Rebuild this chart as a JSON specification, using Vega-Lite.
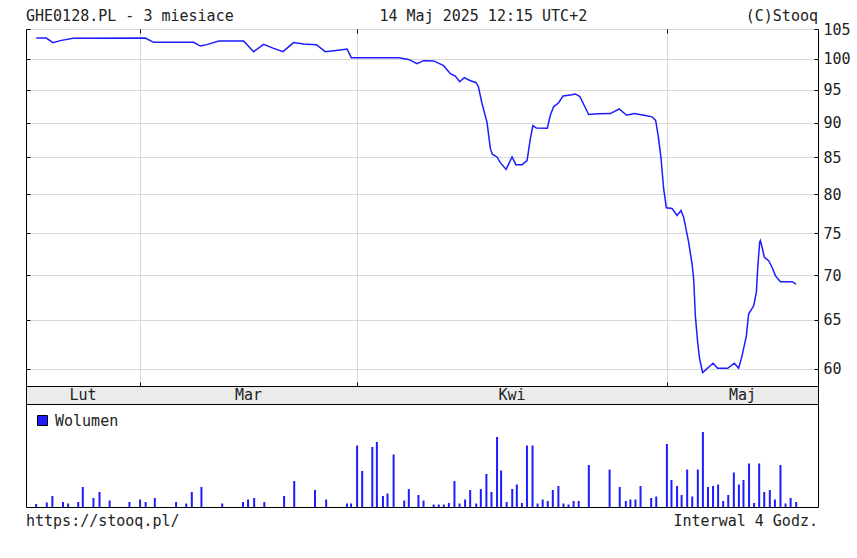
{
  "$schema": "https://vega.github.io/schema/vega-lite/v6.json",
  "autosize": {"type": "pad"},
  "padding": {"left": 25, "top": 8, "right": 0, "bottom": 0},
  "background": "#ffffff",
  "datasets": {
    "price": [
      {"i": 2.03, "p": 103.45}, {"i": 4.0, "p": 103.45}, {"i": 5.33, "p": 102.67}, {"i": 6.77, "p": 103.01},
      {"i": 9.27, "p": 103.4}, {"i": 23.53, "p": 103.45}, {"i": 25.17, "p": 102.72}, {"i": 33.06, "p": 102.72},
      {"i": 34.38, "p": 102.09}, {"i": 35.7, "p": 102.33}, {"i": 37.99, "p": 102.94}, {"i": 42.92, "p": 102.94},
      {"i": 44.89, "p": 101.15}, {"i": 46.86, "p": 102.38}, {"i": 48.84, "p": 101.7}, {"i": 50.69, "p": 101.15},
      {"i": 52.78, "p": 102.67}, {"i": 54.75, "p": 102.43}, {"i": 57.26, "p": 102.33}, {"i": 59.03, "p": 101.15},
      {"i": 61.99, "p": 101.42}, {"i": 63.31, "p": 101.59}, {"i": 64.16, "p": 100.15}, {"i": 73.49, "p": 100.15},
      {"i": 75.46, "p": 99.87}, {"i": 77.12, "p": 99.16}, {"i": 78.42, "p": 99.66}, {"i": 80.39, "p": 99.62},
      {"i": 82.37, "p": 98.84}, {"i": 83.69, "p": 97.54}, {"i": 84.67, "p": 97.15}, {"i": 85.52, "p": 96.26},
      {"i": 86.45, "p": 96.91}, {"i": 87.63, "p": 96.42}, {"i": 88.72, "p": 96.15}, {"i": 89.21, "p": 95.51},
      {"i": 89.94, "p": 92.87}, {"i": 90.93, "p": 90.0}, {"i": 91.58, "p": 86.21}, {"i": 91.97, "p": 85.43},
      {"i": 92.9, "p": 85.04}, {"i": 93.55, "p": 84.24}, {"i": 94.69, "p": 83.31}, {"i": 95.86, "p": 85.04},
      {"i": 96.61, "p": 83.96}, {"i": 97.83, "p": 83.96}, {"i": 98.82, "p": 84.52}, {"i": 99.47, "p": 87.65},
      {"i": 99.96, "p": 89.55}, {"i": 100.65, "p": 89.18}, {"i": 102.82, "p": 89.15}, {"i": 103.41, "p": 91.09},
      {"i": 104.06, "p": 92.36}, {"i": 105.05, "p": 92.98}, {"i": 105.92, "p": 94.03}, {"i": 107.69, "p": 94.21},
      {"i": 108.34, "p": 94.34}, {"i": 109.23, "p": 93.95}, {"i": 110.97, "p": 91.19}, {"i": 112.88, "p": 91.3},
      {"i": 115.25, "p": 91.34}, {"i": 116.98, "p": 92.03}, {"i": 118.46, "p": 91.09}, {"i": 119.98, "p": 91.34},
      {"i": 122.15, "p": 91.04}, {"i": 123.47, "p": 90.85}, {"i": 124.18, "p": 90.32}, {"i": 124.71, "p": 87.94},
      {"i": 125.25, "p": 84.8}, {"i": 125.76, "p": 80.7}, {"i": 126.29, "p": 78.2}, {"i": 127.42, "p": 78.11},
      {"i": 128.4, "p": 77.21}, {"i": 129.19, "p": 77.86}, {"i": 129.7, "p": 77.01}, {"i": 130.69, "p": 73.89},
      {"i": 131.36, "p": 71.29}, {"i": 131.68, "p": 69.54}, {"i": 132.01, "p": 65.45}, {"i": 132.47, "p": 62.64},
      {"i": 132.86, "p": 60.93}, {"i": 133.45, "p": 59.61}, {"i": 135.5, "p": 60.53}, {"i": 136.41, "p": 60.03},
      {"i": 138.38, "p": 60.03}, {"i": 139.7, "p": 60.53}, {"i": 140.55, "p": 60.03}, {"i": 141.22, "p": 61.27},
      {"i": 142.07, "p": 63.32}, {"i": 142.52, "p": 65.64}, {"i": 143.51, "p": 66.54}, {"i": 144.04, "p": 68.03},
      {"i": 144.3, "p": 70.7}, {"i": 144.69, "p": 73.89}, {"i": 144.83, "p": 74.09}, {"i": 145.17, "p": 73.28},
      {"i": 145.62, "p": 72.08}, {"i": 146.47, "p": 71.68}, {"i": 147.14, "p": 70.9}, {"i": 147.79, "p": 69.93},
      {"i": 148.78, "p": 69.24}, {"i": 151.09, "p": 69.24}, {"i": 151.87, "p": 68.97}
    ],
    "vol": [
      {"i": 2.0, "v": 3}, {"i": 4.1, "v": 4.5}, {"i": 5.2, "v": 11}, {"i": 7.3, "v": 5}, {"i": 8.3, "v": 3.5},
      {"i": 10.3, "v": 5}, {"i": 11.2, "v": 20}, {"i": 13.3, "v": 9}, {"i": 14.5, "v": 15}, {"i": 16.5, "v": 6.5},
      {"i": 20.4, "v": 5}, {"i": 22.5, "v": 7.5}, {"i": 23.6, "v": 5}, {"i": 25.4, "v": 9}, {"i": 29.6, "v": 5},
      {"i": 31.6, "v": 3.5}, {"i": 32.7, "v": 15}, {"i": 34.6, "v": 20}, {"i": 38.7, "v": 3.5}, {"i": 42.8, "v": 5},
      {"i": 43.8, "v": 7.5}, {"i": 45.0, "v": 9}, {"i": 47.0, "v": 5}, {"i": 50.9, "v": 11}, {"i": 52.9, "v": 26},
      {"i": 57.0, "v": 17}, {"i": 59.2, "v": 7.5}, {"i": 63.3, "v": 3.5}, {"i": 64.1, "v": 3.5}, {"i": 65.3, "v": 61.5},
      {"i": 66.3, "v": 36}, {"i": 68.3, "v": 60}, {"i": 69.2, "v": 65}, {"i": 70.4, "v": 11}, {"i": 71.3, "v": 13.5},
      {"i": 72.5, "v": 52.5}, {"i": 74.6, "v": 6.5}, {"i": 75.5, "v": 18}, {"i": 77.4, "v": 12}, {"i": 78.4, "v": 6.5},
      {"i": 80.4, "v": 2.5}, {"i": 81.4, "v": 2.5}, {"i": 82.4, "v": 2.5}, {"i": 83.4, "v": 4}, {"i": 84.5, "v": 26},
      {"i": 85.5, "v": 3.5}, {"i": 86.6, "v": 7.5}, {"i": 87.6, "v": 17}, {"i": 88.8, "v": 3.5}, {"i": 89.7, "v": 18},
      {"i": 90.8, "v": 33}, {"i": 91.8, "v": 15}, {"i": 92.9, "v": 70}, {"i": 93.7, "v": 36.5}, {"i": 94.8, "v": 5},
      {"i": 95.9, "v": 18}, {"i": 96.8, "v": 22.5}, {"i": 97.8, "v": 4}, {"i": 98.8, "v": 61.5}, {"i": 99.9, "v": 61.5},
      {"i": 100.9, "v": 3.5}, {"i": 101.9, "v": 7.5}, {"i": 102.9, "v": 6}, {"i": 103.9, "v": 17}, {"i": 105.0, "v": 21},
      {"i": 106.0, "v": 3.5}, {"i": 107.0, "v": 2.5}, {"i": 108.0, "v": 6}, {"i": 109.0, "v": 6}, {"i": 111.0, "v": 42},
      {"i": 115.1, "v": 37.5}, {"i": 117.1, "v": 20}, {"i": 118.3, "v": 6}, {"i": 119.2, "v": 7.5}, {"i": 120.2, "v": 7.5},
      {"i": 121.2, "v": 21}, {"i": 123.3, "v": 9}, {"i": 124.3, "v": 10.5}, {"i": 126.4, "v": 63}, {"i": 127.3, "v": 27},
      {"i": 128.4, "v": 21}, {"i": 129.3, "v": 12}, {"i": 130.4, "v": 37.5}, {"i": 131.4, "v": 10.5}, {"i": 132.5, "v": 37.5},
      {"i": 133.5, "v": 75}, {"i": 134.5, "v": 20}, {"i": 135.5, "v": 21}, {"i": 136.5, "v": 22.5}, {"i": 137.5, "v": 6},
      {"i": 138.5, "v": 12}, {"i": 139.6, "v": 34.5}, {"i": 140.6, "v": 22.5}, {"i": 141.5, "v": 27}, {"i": 142.6, "v": 43.5},
      {"i": 143.6, "v": 4}, {"i": 144.6, "v": 43.5}, {"i": 145.6, "v": 15}, {"i": 146.7, "v": 17}, {"i": 147.7, "v": 7.5},
      {"i": 148.8, "v": 42}, {"i": 149.8, "v": 3.5}, {"i": 150.8, "v": 9}, {"i": 151.9, "v": 5}
    ],
    "months": [
      {"m": "Lut", "center": 11.25},
      {"m": "Mar", "center": 43.9},
      {"m": "Kwi", "center": 95.85},
      {"m": "Maj", "center": 141.3}
    ]
  },
  "bounds": "flush",
  "spacing": 0,
  "vconcat": [
    {
      "width": 792,
      "height": 357,
      "resolve": {"axis": {"x": "independent", "y": "independent"}},
      "layer": [
        {
          "data": {"name": "price"},
          "mark": {"type": "line", "color": "#1c1cff", "strokeWidth": 1.5},
          "encoding": {
            "x": {
              "field": "i", "type": "quantitative",
              "scale": {"domain": [0, 156.2], "nice": false, "zero": false, "padding": 0},
              "axis": {"orient": "top", "values": [22.5, 65.3, 126.4], "labels": false, "title": null,
                       "grid": true, "gridColor": "#d9d9d9", "tickSize": -4, "tickColor": "#000", "domain": false}
            },
            "y": {
              "field": "p", "type": "quantitative",
              "scale": {"type": "log", "domain": [58.3, 105], "nice": false, "zero": false},
              "axis": {"orient": "right", "values": [60, 65, 70, 75, 80, 85, 90, 95, 100, 105], "format": "d",
                       "title": null, "grid": true, "gridColor": "#d9d9d9", "tickSize": -4, "tickColor": "#000",
                       "domain": false, "labelPadding": 9}
            }
          }
        },
        {
          "data": {"values": [{"t": "GHE0128.PL - 3 miesiace"}]},
          "mark": {"type": "text", "align": "left", "baseline": "middle", "dy": -13, "font": "DejaVu Sans Mono", "fontSize": 15, "color": "#222"},
          "encoding": {
            "text": {"field": "t"},
            "x": {"datum": 0, "type": "quantitative",
                  "axis": {"orient": "bottom", "values": [22.5, 65.3, 126.4], "labels": false, "title": null,
                           "grid": false, "tickSize": -4, "tickColor": "#000", "domain": false}},
            "y": {"datum": 105, "type": "quantitative",
                  "axis": {"orient": "left", "values": [60, 65, 70, 75, 80, 85, 90, 95, 100, 105], "labels": false,
                           "title": null, "grid": false, "tickSize": -4, "tickColor": "#000", "domain": false}}
          }
        },
        {
          "data": {"values": [{"t": "14 Maj 2025 12:15 UTC+2"}]},
          "mark": {"type": "text", "align": "center", "baseline": "middle", "dy": -13, "font": "DejaVu Sans Mono", "fontSize": 15, "color": "#222"},
          "encoding": {
            "text": {"field": "t"},
            "x": {"datum": 90.2, "type": "quantitative", "axis": null},
            "y": {"datum": 105, "type": "quantitative", "axis": null}
          }
        },
        {
          "data": {"values": [{"t": "(C)Stooq"}]},
          "mark": {"type": "text", "align": "right", "baseline": "middle", "dy": -13, "font": "DejaVu Sans Mono", "fontSize": 15, "color": "#222"},
          "encoding": {
            "text": {"field": "t"},
            "x": {"datum": 156.2, "type": "quantitative", "axis": null},
            "y": {"datum": 105, "type": "quantitative", "axis": null}
          }
        }
      ]
    },
    {
      "width": 792,
      "height": 18,
      "view": {"fill": "#ebebeb", "stroke": "#000"},
      "data": {"name": "months"},
      "mark": {"type": "text", "baseline": "middle", "align": "center", "font": "DejaVu Sans Mono", "fontSize": 15, "color": "#222"},
      "encoding": {
        "x": {"field": "center", "type": "quantitative", "scale": {"domain": [0, 156.2], "nice": false, "zero": false, "padding": 0}, "axis": null},
        "text": {"field": "m"}
      }
    },
    {
      "width": 792,
      "height": 103,
      "layer": [
        {
          "data": {"name": "vol"},
          "mark": {"type": "bar", "size": 2},
          "encoding": {
            "x": {
              "field": "i", "type": "quantitative",
              "scale": {"domain": [0, 156.2], "nice": false, "zero": false, "padding": 0},
              "axis": {"orient": "top", "values": [22.5, 65.3, 126.4], "labels": false, "title": null,
                       "grid": true, "gridColor": "#d9d9d9", "tickSize": -4, "tickColor": "#000", "domain": false}
            },
            "y": {"field": "v", "type": "quantitative", "scale": {"domain": [0, 103], "nice": false}, "axis": null},
            "color": {
              "datum": "Wolumen", "type": "nominal",
              "scale": {"range": ["#1c1cff"]},
              "legend": {"orient": "top-left", "title": null, "offset": 9, "padding": 0,
                         "symbolType": "square", "symbolSize": 100, "symbolStrokeColor": "#000", "symbolStrokeWidth": 1,
                         "labelFont": "DejaVu Sans Mono", "labelFontSize": 15, "labelColor": "#222", "labelOffset": 5}
            }
          }
        },
        {
          "data": {"values": [{"t": "https://stooq.pl/"}]},
          "mark": {"type": "text", "align": "left", "baseline": "middle", "dy": 13.5, "font": "DejaVu Sans Mono", "fontSize": 15, "color": "#222"},
          "encoding": {
            "text": {"field": "t"},
            "x": {"datum": 0, "type": "quantitative", "axis": null},
            "y": {"datum": 0, "type": "quantitative", "axis": null}
          }
        },
        {
          "data": {"values": [{"t": "Interwal 4 Godz."}]},
          "mark": {"type": "text", "align": "right", "baseline": "middle", "dy": 13.5, "font": "DejaVu Sans Mono", "fontSize": 15, "color": "#222"},
          "encoding": {
            "text": {"field": "t"},
            "x": {"datum": 156.2, "type": "quantitative", "axis": null},
            "y": {"datum": 0, "type": "quantitative", "axis": null}
          }
        }
      ]
    }
  ],
  "resolve": {"scale": {"color": "independent"}},
  "config": {
    "view": {"stroke": "#000", "strokeWidth": 1},
    "axis": {"labelFont": "DejaVu Sans Mono", "labelFontSize": 15, "labelColor": "#222"},
    "legend": {"symbolStrokeColor": "#000", "symbolStrokeWidth": 1}
  }
}
